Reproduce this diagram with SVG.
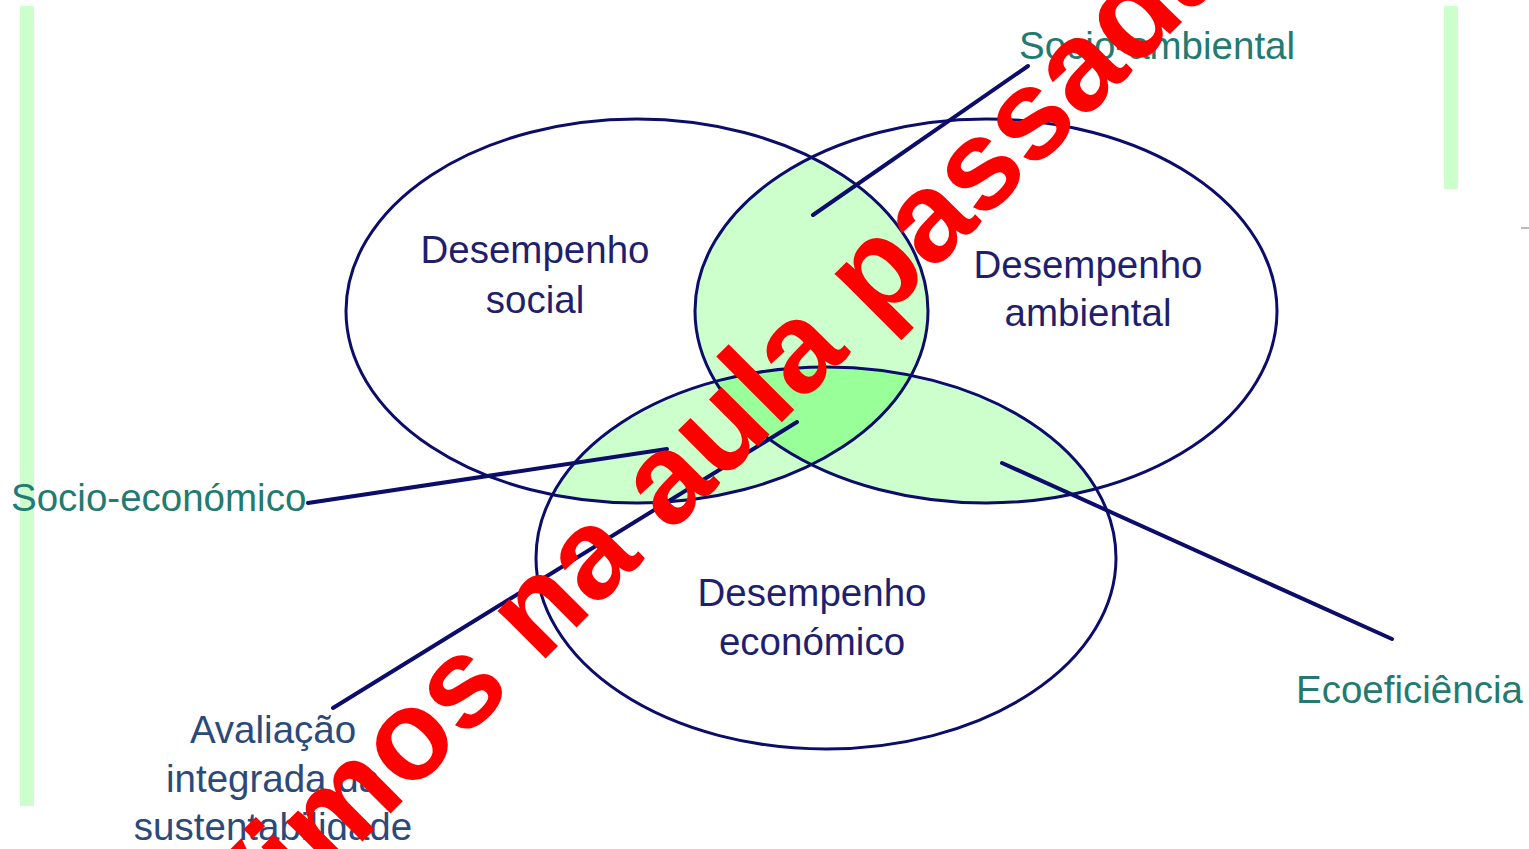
<svg xmlns="http://www.w3.org/2000/svg" width="1529" height="849" viewBox="0 0 1529 849">
<style>
.ell{fill:none;stroke:#0c0c6a;stroke-width:3}
.conn{stroke:#0c0c6a;stroke-width:4;stroke-linecap:round}
.lt{fill:#ccffcc}
.dk{fill:#99ff99}
.perf{font-family:"Liberation Sans",Arial,sans-serif;font-size:38.5px;fill:#1f1f6e;text-anchor:middle}
.lab{font-family:"Liberation Sans",Arial,sans-serif;font-size:38.5px;fill:#237a70}
.aval{font-family:"Liberation Sans",Arial,sans-serif;font-size:38.5px;fill:#2b4a7a;text-anchor:middle}
.wm{font-family:"Liberation Sans",Arial,sans-serif;font-size:128px;font-weight:bold;fill:#ff0000}
</style>
<defs>
<clipPath id="c1"><ellipse cx="637" cy="311" rx="291" ry="192"/></clipPath>
<clipPath id="c2"><ellipse cx="986" cy="311" rx="291" ry="192"/></clipPath>
<clipPath id="c3"><ellipse cx="826" cy="558" rx="290" ry="191"/></clipPath>
</defs>
<rect x="0" y="0" width="1529" height="849" fill="#ffffff"/>
<rect x="20" y="6" width="14" height="800" fill="#ccffcc"/>
<rect x="1444" y="6" width="14" height="183" fill="#ccffcc"/>
<rect x="1521" y="227" width="8" height="2" fill="#bbbbbb"/>
<g id="overlaps">
<ellipse class="lt" cx="986" cy="311" rx="291" ry="192" clip-path="url(#c1)"/>
<ellipse class="lt" cx="826" cy="558" rx="290" ry="191" clip-path="url(#c1)"/>
<ellipse class="lt" cx="826" cy="558" rx="290" ry="191" clip-path="url(#c2)"/>
<g clip-path="url(#c2)"><ellipse class="dk" cx="826" cy="558" rx="290" ry="191" clip-path="url(#c1)"/></g>
</g>
<g id="social">
<ellipse class="ell" cx="637" cy="311" rx="291" ry="192"/>
<text class="perf" x="535" y="263">Desempenho</text>
<text class="perf" x="535" y="313">social</text>
</g>
<g id="ambiental">
<ellipse class="ell" cx="986" cy="311" rx="291" ry="192"/>
<text class="perf" x="1088" y="278">Desempenho</text>
<text class="perf" x="1088" y="326">ambiental</text>
</g>
<g id="economico">
<ellipse class="ell" cx="826" cy="558" rx="290" ry="191"/>
<text class="perf" x="812" y="606">Desempenho</text>
<text class="perf" x="812" y="655">económico</text>
</g>
<g id="connectors">
<line class="conn" x1="813" y1="215" x2="1028" y2="66"/>
<line class="conn" x1="308" y1="503" x2="667" y2="449"/>
<line class="conn" x1="333" y1="708" x2="797" y2="422"/>
<line class="conn" x1="1002" y1="463" x2="1392" y2="639"/>
</g>
<g id="label-socioambiental"><text class="lab" x="1019" y="59">Socio-ambiental</text></g>
<g id="label-socioeconomico"><text class="lab" x="11" y="511">Socio-económico</text></g>
<g id="label-ecoeficiencia"><text class="lab" x="1296" y="703">Ecoeficiência</text></g>
<g id="label-avaliacao">
<text class="aval" x="273" y="743">Avaliação</text>
<text class="aval" x="273" y="792">integrada da</text>
<text class="aval" x="273" y="840">sustentabilidade</text>
</g>
<text class="wm" x="244" y="960" transform="rotate(-45 244 960)">Vimos na aula passada</text>
</svg>
